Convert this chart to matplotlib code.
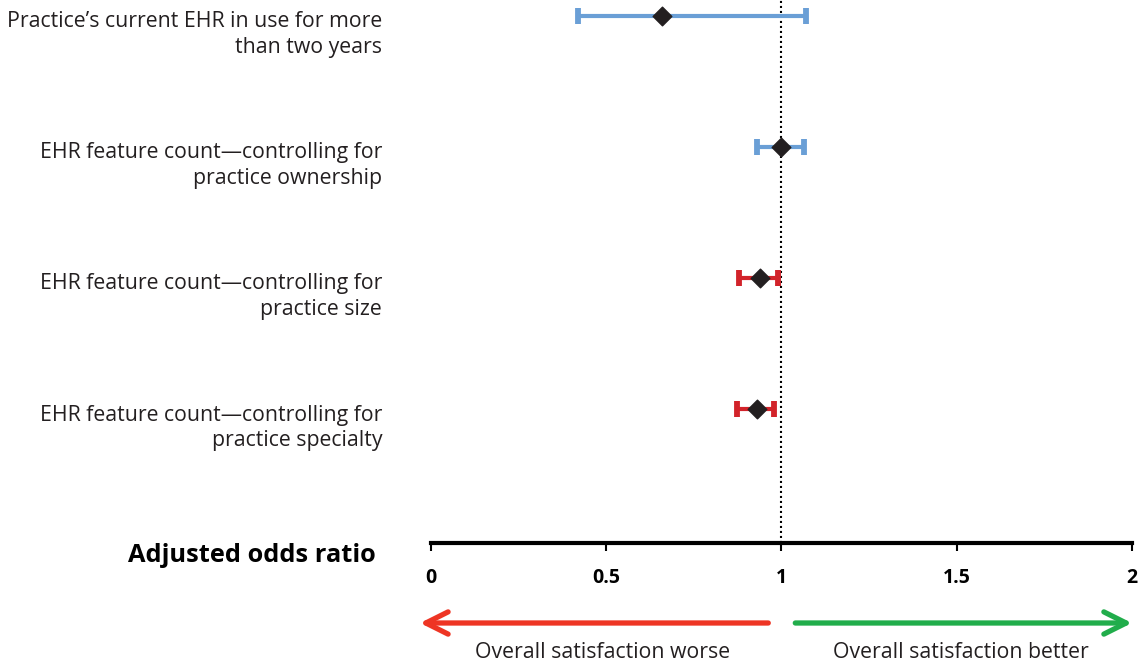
import numpy as np
import matplotlib.pyplot as plt
import matplotlib.transforms as mtransforms

plt.rcParams['font.family'] = ['Open Sans', 'DejaVu Sans']

# --- Data ---
labels = [
    "Practice\u2019s current EHR in use for more\nthan two years",
    "EHR feature count\u2014controlling for\npractice ownership",
    "EHR feature count\u2014controlling for\npractice size",
    "EHR feature count\u2014controlling for\npractice specialty",
]
odds_ratio = [0.66, 1.00, 0.94, 0.93]
ci_low = [0.42, 0.93, 0.88, 0.875]
ci_high = [1.07, 1.065, 0.99, 0.98]
significant = [False, False, True, True]
ticks = [0, 0.5, 1, 1.5, 2]
tick_labels = ["0", "0.5", "1", "1.5", "2"]

BLUE = "#6a9fd6"
RED = "#d2232a"
DIAMOND = "#231f20"
TEXT = "#231f20"

fig = plt.figure(figsize=(11.4, 6.65), dpi=100)
W, H = 1140, 665
# axes spans from the top of the figure down to the axis line
ax = fig.add_axes([430.5 / W, 1 - 543 / H, (1132 - 430.5) / W, 543 / H])

y = np.arange(len(labels))
for i in range(len(labels)):
    col = RED if significant[i] else BLUE
    ax.errorbar(odds_ratio[i], y[i],
                xerr=[[odds_ratio[i] - ci_low[i]], [ci_high[i] - odds_ratio[i]]],
                fmt='none', ecolor=col, elinewidth=3, capsize=5.6, capthick=4.2,
                clip_on=False, zorder=2)
ax.scatter(odds_ratio, y, marker='D', s=90, color=DIAMOND, zorder=3, clip_on=False)

# reference line at OR = 1
ax.axvline(1, color='black', lw=1.5, ls=(0, (1, 1.4)), zorder=1)

ax.set_xlim(0, 2)
ax.set_ylim(4.02, -0.12)
ax.set_xticks(ticks)
ax.set_xticklabels(tick_labels, fontsize=14, fontweight='bold')
ax.set_yticks([])
for s in ['top', 'right', 'left']:
    ax.spines[s].set_visible(False)
ax.spines['bottom'].set_linewidth(3)
ax.tick_params(axis='x', direction='out', length=6, width=1.5, pad=12)

# row labels, right-aligned left of the plot
trans = mtransforms.blended_transform_factory(fig.transFigure, ax.transData)
for i, lab in enumerate(labels):
    ax.text(382 / W, y[i] - 0.035, lab, transform=trans, ha='right', va='top',
            fontsize=15.3, linespacing=1.28, color=TEXT)

fig.text(376 / W, 1 - 555 / H, "Adjusted odds ratio", ha='right', va='center',
         fontsize=18.3, fontweight='bold', color='black')

# direction arrows under the axis
atrans = mtransforms.blended_transform_factory(ax.transData, fig.transFigure)
ya = 1 - 623 / H
arrow = '->, head_length=1.6, head_width=0.8'
ax.annotate("", xy=(-0.03, ya), xytext=(0.963, ya), xycoords=atrans, textcoords=atrans,
            arrowprops=dict(arrowstyle=arrow, color='#ee3524', lw=3.8,
                            shrinkA=0, shrinkB=0))
ax.annotate("", xy=(2.0, ya), xytext=(1.04, ya), xycoords=atrans, textcoords=atrans,
            arrowprops=dict(arrowstyle=arrow, color='#21ad4b', lw=3.8,
                            shrinkA=0, shrinkB=0))
fig.text(603 / W, 1 - 653 / H, "Overall satisfaction worse", ha='center', va='center',
         fontsize=15.3, color=TEXT)
fig.text(961 / W, 1 - 653 / H, "Overall satisfaction better", ha='center', va='center',
         fontsize=15.3, color=TEXT)

fig.savefig("out.png", dpi=100)
